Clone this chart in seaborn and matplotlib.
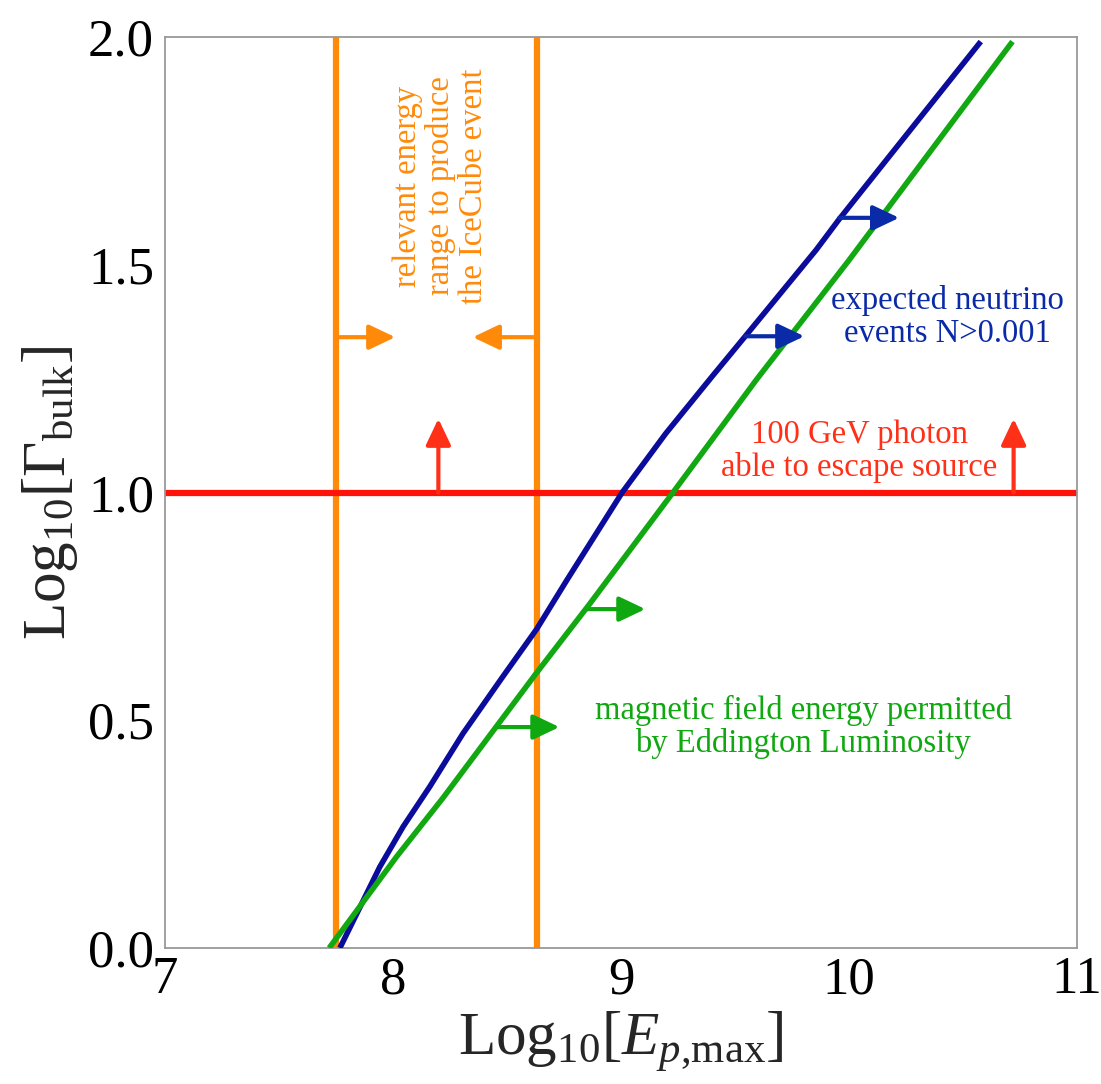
import numpy as np
import pandas as pd
import matplotlib
matplotlib.use("Agg")
import matplotlib.pyplot as plt
import seaborn as sns

# ---------------- data ----------------
blue_x = [7.767, 7.942, 8.044, 8.161, 8.307, 8.482, 8.63, 8.763,
          9.005, 9.197, 9.40, 9.545, 9.855, 9.957, 10.578]
blue_y = [0.0, 0.178, 0.266, 0.354, 0.471, 0.596, 0.70, 0.808,
          1.0, 1.13, 1.255, 1.343, 1.532, 1.600, 1.99]
green_x = [7.72, 8.015, 8.22, 8.453, 8.628, 8.862, 9.228, 9.593, 10.0, 10.717]
green_y = [0.0, 0.200, 0.330, 0.486, 0.603, 0.755, 1.0, 1.247, 1.51, 1.99]
orange_x = [7.75, 8.63]          # vertical energy-range lines
red_y = [1.0]                    # horizontal photon-escape line

x_ticks = [7, 8, 9, 10, 11]
y_ticks = [0.0, 0.5, 1.0, 1.5, 2.0]

# arrows: (x_start, y_start, x_end, y_end)
orange_arrows = [(7.75, 1.341, 8.01, 1.341), (8.63, 1.341, 8.35, 1.341)]
red_arrows = [(8.199, 1.0, 8.199, 1.162), (10.722, 1.0, 10.722, 1.162)]
blue_arrows = [(9.545, 1.343, 9.804, 1.343), (9.957, 1.603, 10.22, 1.603)]
green_arrows = [(8.849, 0.744, 9.107, 0.744), (8.45, 0.485, 8.73, 0.485)]

# annotation texts: (x, y, text)
orange_text = (8.21, 1.673, "relevant energy\nrange to produce\nthe IceCube event")
red_text = (10.045, 1.09, "100 GeV photon\nable to escape source")
blue_text = (10.43, 1.385, "expected neutrino\nevents N>0.001")
green_text = (9.80, 0.485, "magnetic field energy permitted\nby Eddington Luminosity")

# ---------------- colours ----------------
C_BLUE_LINE = "#0c0c9c"
C_BLUE = "#0a2aa8"
C_GREEN_LINE = "#12a812"
C_GREEN = "#10a810"
C_ORANGE = "#ff8a0a"
C_RED_LINE = "#ff1208"
C_RED = "#ff3018"

# ---------------- style ----------------
sns.set_theme(style="white")
plt.rcParams["font.family"] = ["Liberation Serif", "DejaVu Serif"]
plt.rcParams["mathtext.fontset"] = "custom"
plt.rcParams["mathtext.rm"] = "Liberation Serif"
plt.rcParams["mathtext.it"] = "Liberation Serif:italic"
plt.rcParams["mathtext.bf"] = "Liberation Serif:bold"

fig = plt.figure(figsize=(11.01, 10.84), dpi=100)
ax = fig.add_axes([165 / 1101, 1 - 948 / 1084, (1077 - 165) / 1101, (948 - 37) / 1084])

df = pd.concat([
    pd.DataFrame({"E": blue_x, "G": blue_y, "curve": "neutrino"}),
    pd.DataFrame({"E": green_x, "G": green_y, "curve": "eddington"}),
])

for xv in orange_x:
    ax.axvline(xv, color=C_ORANGE, lw=4.5, zorder=1)
for yv in red_y:
    ax.axhline(yv, color=C_RED_LINE, lw=4.5, zorder=1)

sns.lineplot(data=df, x="E", y="G", hue="curve",
             palette={"neutrino": C_BLUE_LINE, "eddington": C_GREEN_LINE},
             lw=4, legend=False, ax=ax, zorder=3, estimator=None, sort=False,
             solid_joinstyle="round", solid_capstyle="butt")


def draw_arrows(arrs, color):
    for x0, y0, x1, y1 in arrs:
        ax.annotate("", xy=(x1, y1), xytext=(x0, y0),
                    arrowprops=dict(arrowstyle="-|>,head_length=0.8,head_width=0.38",
                                    mutation_scale=20, lw=3, color=color,
                                    shrinkA=0, shrinkB=0),
                    zorder=4)


draw_arrows(orange_arrows, C_ORANGE)
draw_arrows(red_arrows, C_RED)
draw_arrows(blue_arrows, C_BLUE)
draw_arrows(green_arrows, C_GREEN)

TXT = 23.5
LS = 1.1
ax.text(orange_text[0], orange_text[1], orange_text[2], rotation=90, color=C_ORANGE,
        fontsize=TXT, ha="center", va="center", multialignment="center", linespacing=LS)
ax.text(red_text[0], red_text[1], red_text[2], color=C_RED,
        fontsize=TXT, ha="center", va="center", multialignment="center", linespacing=LS)
ax.text(blue_text[0], blue_text[1], blue_text[2], color=C_BLUE,
        fontsize=TXT, ha="center", va="center", multialignment="center", linespacing=LS)
ax.text(green_text[0], green_text[1], green_text[2], color=C_GREEN,
        fontsize=TXT, ha="center", va="center", multialignment="center", linespacing=LS)

ax.set_xlim(7, 11)
ax.set_ylim(0, 2)
ax.set_xticks(x_ticks)
ax.set_xticklabels([str(t) for t in x_ticks])
ax.set_yticks(y_ticks)
ax.set_yticklabels([f"{t:.1f}" for t in y_ticks])
ax.tick_params(axis="both", direction="in", length=5, width=1, color="#777777",
               labelsize=38, labelcolor="black")
ax.tick_params(axis="x", pad=6)
ax.tick_params(axis="y", pad=8)
for s in ax.spines.values():
    s.set_color("#999999")
    s.set_linewidth(1.3)

ax.set_xlabel(r"$\mathrm{Log}_{10}[E_{p{,}\mathrm{max}}]$", fontsize=44, labelpad=4)
ax.set_ylabel(r"$\mathrm{Log}_{10}[\Gamma_{\mathrm{bulk}}]$", fontsize=44, labelpad=6)

fig.savefig("out.png", dpi=100)
